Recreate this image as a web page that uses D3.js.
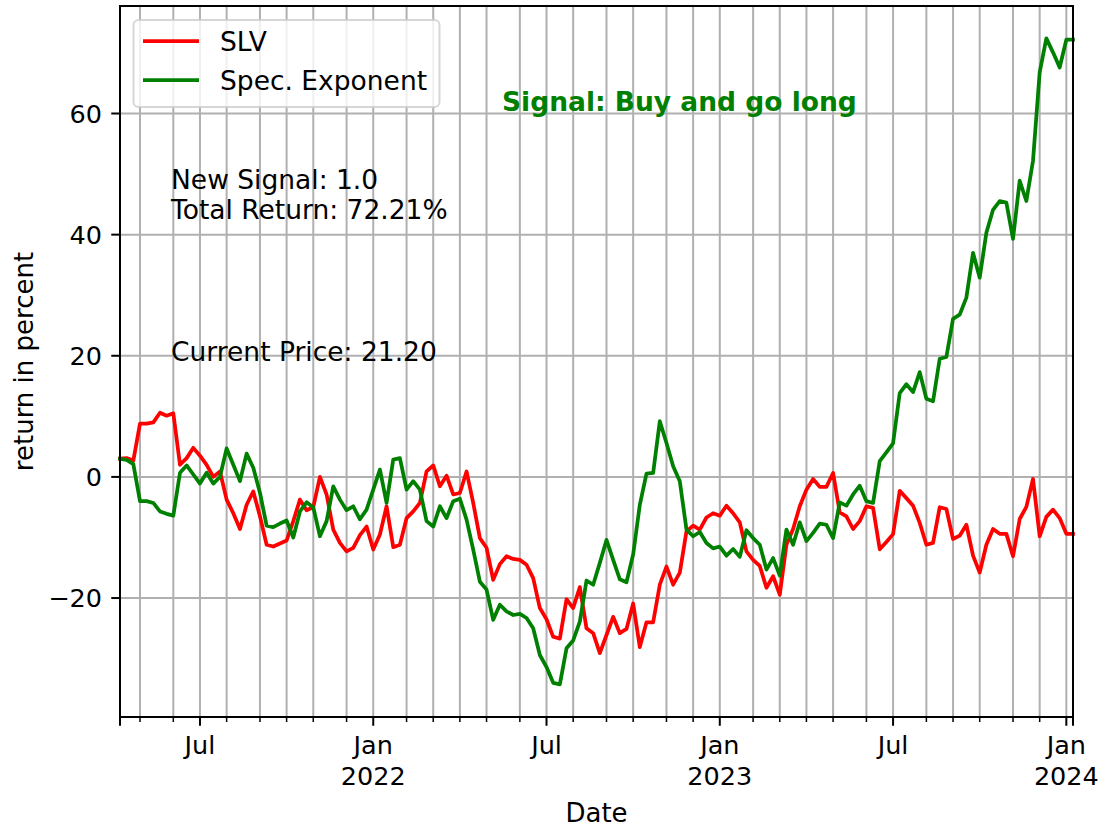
<!DOCTYPE html>
<html>
<head>
<meta charset="utf-8">
<script src="https://cdn.jsdelivr.net/npm/d3@7"></script>
<style>
  html, body { margin: 0; padding: 0; background: #fff; }
  svg { display: block; }
  text { font-family: "DejaVu Sans", sans-serif; }
</style>
</head>
<body>
<svg id="chart" width="1109" height="829"></svg>
<script>
// ---- data (weekly, first week starting Mon 2021-04-12) ----
const startWeek = new Date(2021, 3, 12);
const endWeek = new Date(2024, 0, 8);
const seriesNames = ["SLV", "Spec. Exponent"];
const seriesColors = ["red", "green"];

const slv = [
  3.0, 3.1, 2.7, 8.8, 8.8, 9.0, 10.6, 10.1, 10.5, 2.0,
  3.1, 4.8, 3.5, 2.0, 0.0, 0.9, -3.75, -6.0, -8.6, -4.6,
  -2.4, -6.5, -11.2, -11.5, -11.0, -10.5, -7.3, -3.75, -5.5, -5.0,
  0.0, -2.9, -8.7, -10.9, -12.3, -11.7, -9.6, -8.2, -12.0, -9.5,
  -4.85, -11.6, -11.2, -6.8, -5.7, -4.3, 0.9, 1.9, -1.55, 0.2,
  -2.9, -2.65, 0.9, -4.3, -10.1, -11.7, -17.0, -14.4, -13.1, -13.55,
  -13.7, -14.5, -16.7, -21.65, -23.5, -26.4, -26.7, -20.2, -21.65, -18.2,
  -25.0, -25.8, -29.1, -26.1, -23.1, -25.8, -25.1, -20.9, -28.1, -24.0,
  -24.0, -17.8, -14.8, -17.8, -15.8, -9.0, -8.05, -8.7, -6.7, -6.0,
  -6.4, -4.75, -6.0, -7.5, -12.3, -13.7, -14.7, -18.3, -16.4, -19.45,
  -11.2, -8.6, -4.85, -2.1, -0.35, -1.65, -1.65, 0.65, -5.85, -6.5,
  -8.6, -7.3, -4.85, -5.1, -11.95, -10.75, -9.45, -2.3, -3.5, -4.75,
  -7.6, -11.2, -10.9, -5.0, -5.3, -10.25, -9.7, -7.9, -13.0, -15.8,
  -11.2, -8.6, -9.4, -9.4, -13.1, -6.95, -4.95, -0.35, -9.8, -6.6,
  -5.4, -6.8, -9.4, -9.4
];

const specExponent = [
  3.0, 2.8, 2.1, -4.0, -4.0, -4.3, -5.7, -6.1, -6.4, 0.7,
  1.9, 0.4, -1.1, 0.7, -1.1, 0.0, 4.7, 2.0, -0.7, 3.85,
  1.5, -2.6, -8.05, -8.3, -7.7, -7.2, -10.0, -5.7, -4.2, -5.0,
  -9.8, -7.3, -1.55, -3.75, -5.5, -4.85, -7.0, -5.4, -2.1, 1.2,
  -4.3, 2.85, 3.1, -2.1, -0.7, -2.1, -7.3, -8.2, -4.85, -6.8,
  -4.0, -3.6, -7.05, -12.0, -17.3, -18.6, -23.6, -21.1, -22.2, -22.8,
  -22.6, -23.3, -25.0, -29.4, -31.4, -34.0, -34.25, -28.3, -27.0, -23.9,
  -17.1, -17.8, -14.2, -10.4, -13.7, -16.9, -17.4, -12.8, -4.6, 0.55,
  0.65, 9.2, 5.6, 1.75, -0.7, -8.7, -9.8, -9.1, -10.9, -11.8,
  -11.5, -13.0, -11.9, -13.2, -8.8, -10.1, -11.2, -15.3, -13.4, -16.3,
  -8.7, -11.2, -7.5, -10.6, -9.25, -7.7, -7.9, -10.1, -4.2, -4.75,
  -2.9, -1.45, -4.0, -4.3, 2.6, 4.05, 5.55, 13.85, 15.3, 14.0,
  17.3, 12.9, 12.5, 19.5, 19.8, 26.1, 26.8, 29.6, 37.0, 32.9,
  40.3, 44.1, 45.55, 45.3, 39.3, 48.9, 45.55, 52.2, 66.8, 72.4,
  70.1, 67.6, 72.2, 72.21
];

const yTicks = [-20, 0, 20, 40, 60];
const monthNames = ["Jan","Feb","Mar","Apr","May","Jun","Jul","Aug","Sep","Oct","Nov","Dec"];
const annotations = [
  { text: "New Signal: 1.0" },
  { text: "Total Return: 72.21%" },
  { text: "Current Price: 21.20" }
];
const signalText = "Signal: Buy and go long";

// ---- layout ----
const svg = d3.select("#chart");
const L = 120, R = 1073, T = 6, B = 717;
const FS = 26.5;     // annotation / legend text
const FT = 25.5;     // tick labels
const FA = 26;       // axis labels

const weeks = d3.timeMonday.range(startWeek, d3.timeDay.offset(endWeek, 1));
const x = d3.scaleTime().domain([startWeek, endWeek]).range([L, R]);
const y = d3.scaleLinear().domain([-39.64, 77.75]).range([B, T]);

// month gridlines at first Monday of each month
const monthStarts = d3.timeMonth.range(new Date(2021, 4, 1), new Date(2024, 1, 1));
const monthTicks = monthStarts.map(m => ({ m, d: d3.timeMonday.ceil(m) }))
  .filter(o => o.d >= startWeek && o.d <= endWeek);
const isMajor = o => o.m.getMonth() === 0 || o.m.getMonth() === 6;

const grid = svg.append("g");
grid.selectAll("line.v").data(monthTicks).enter().append("line")
  .attr("x1", o => x(o.d)).attr("x2", o => x(o.d))
  .attr("y1", T).attr("y2", B)
  .attr("stroke", "#b0b0b0").attr("stroke-width", 2);
grid.selectAll("line.h").data(yTicks).enter().append("line")
  .attr("x1", L).attr("x2", R)
  .attr("y1", d => y(d)).attr("y2", d => y(d))
  .attr("stroke", "#b0b0b0").attr("stroke-width", 2);

// lines
const lineGen = vals => d3.line()
  .x((d, i) => x(weeks[i]))
  .y(d => y(d))(vals);
[slv, specExponent].forEach((vals, k) => {
  svg.append("path")
    .attr("d", lineGen(vals))
    .attr("fill", "none")
    .attr("stroke", seriesColors[k])
    .attr("stroke-width", 3.75)
    .attr("stroke-linejoin", "round")
    .attr("stroke-linecap", "square");
});

// spines
svg.append("rect").attr("x", L).attr("y", T).attr("width", R - L).attr("height", B - T)
  .attr("fill", "none").attr("stroke", "#000").attr("stroke-width", 2);

// x ticks
const xt = svg.append("g");
const endTicks = [startWeek, endWeek];
xt.selectAll("line.e").data(endTicks).enter().append("line")
  .attr("x1", d => x(d)).attr("x2", d => x(d))
  .attr("y1", B).attr("y2", B + 8.75)
  .attr("stroke", "#000").attr("stroke-width", 2);
xt.selectAll("line.t").data(monthTicks).enter().append("line")
  .attr("x1", o => x(o.d)).attr("x2", o => x(o.d))
  .attr("y1", B).attr("y2", o => B + (isMajor(o) ? 8.75 : 5))
  .attr("stroke", "#000").attr("stroke-width", o => isMajor(o) ? 2 : 1.5);
const lab = xt.selectAll("text").data(monthTicks.filter(isMajor)).enter().append("text")
  .attr("x", o => x(o.d)).attr("y", 754)
  .attr("text-anchor", "middle").attr("font-size", FT).attr("fill", "#000");
lab.append("tspan").attr("x", o => x(o.d)).text(o => monthNames[o.m.getMonth()]);
lab.filter(o => o.m.getMonth() === 0).append("tspan")
  .attr("x", o => x(o.d)).attr("dy", 31).text(o => o.m.getFullYear());

// y ticks
const yt = svg.append("g");
yt.selectAll("line").data(yTicks).enter().append("line")
  .attr("x1", L - 8.75).attr("x2", L)
  .attr("y1", d => y(d)).attr("y2", d => y(d))
  .attr("stroke", "#000").attr("stroke-width", 2);
yt.selectAll("text").data(yTicks).enter().append("text")
  .attr("x", L - 18).attr("y", d => y(d)).attr("dy", "0.36em")
  .attr("text-anchor", "end").attr("font-size", FT)
  .text(d => d < 0 ? "\u2212" + Math.abs(d) : String(d));

// axis labels
svg.append("text").attr("x", (L + R) / 2).attr("y", 822)
  .attr("text-anchor", "middle").attr("font-size", FA).text("Date");
svg.append("text").attr("transform", `translate(33,${(T + B) / 2}) rotate(-90)`)
  .attr("text-anchor", "middle").attr("font-size", FA).text("return in percent");

// annotations
svg.append("text").attr("x", 171).attr("y", 189).attr("font-size", FS).text(annotations[0].text);
svg.append("text").attr("x", 171).attr("y", 218.5).attr("font-size", FS).text(annotations[1].text);
svg.append("text").attr("x", 171).attr("y", 361).attr("font-size", FS).text(annotations[2].text);
svg.append("text").attr("x", 502).attr("y", 111).attr("font-size", FS)
  .attr("font-weight", "bold").attr("fill", "green").text(signalText);

// legend
const lg = svg.append("g");
lg.append("rect").attr("x", 133.5).attr("y", 20).attr("width", 306).attr("height", 87)
  .attr("rx", 5).attr("ry", 5)
  .attr("fill", "#fff").attr("fill-opacity", 0.8)
  .attr("stroke", "#cccccc").attr("stroke-opacity", 0.8).attr("stroke-width", 2);
seriesNames.forEach((n, k) => {
  const yy = 41 + k * 39;
  lg.append("line").attr("x1", 143).attr("x2", 199).attr("y1", yy).attr("y2", yy)
    .attr("stroke", seriesColors[k]).attr("stroke-width", 3.75);
  lg.append("text").attr("x", 220).attr("y", yy + 10).attr("font-size", FS).text(n);
});
</script>
</body>
</html>
